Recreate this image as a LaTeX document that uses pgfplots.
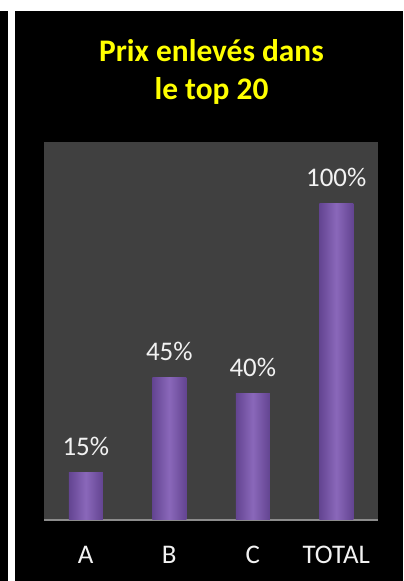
\documentclass[border=0pt]{standalone}
\usepackage{pgfplots}
\pgfplotsset{compat=1.18}
\usepackage{fontspec}
\setmainfont{Carlito}
\definecolor{plotbg}{HTML}{404040}
\definecolor{barmid}{HTML}{8A68BA}
\definecolor{baredge}{HTML}{634491}
\definecolor{labelcol}{HTML}{F2F2F2}
\definecolor{titlecol}{HTML}{FFFF00}
\definecolor{baseline}{HTML}{8C8C8C}
\begin{document}
\begin{tikzpicture}[x=1bp,y=1bp]
\fill[white] (0,0) rectangle (403,581);
\fill[black] (0,0) rectangle (8,570);
\fill[black] (15,0) rectangle (403,570);
\node[anchor=base, text=titlecol, font=\bfseries\fontsize{31.5}{36}\selectfont] at (211.5,519) {Prix enlevés dans};
\node[anchor=base, text=titlecol, font=\bfseries\fontsize{31.5}{36}\selectfont] at (211.5,481) {le top 20};
\begin{axis}[
  at={(44bp,61bp)}, anchor=south west,
  scale only axis, width=334bp, height=378bp,
  xmin=-0.5, xmax=3.5, ymin=0, ymax=119.6,
  axis background/.style={fill=plotbg},
  axis x line*=bottom, axis y line=none,
  x axis line style={draw=baseline, line width=1.5bp, -},
  xtick={0,1,2,3}, xticklabels={A,B,C,TOTAL},
  xtick style={draw=none},
  xticklabel style={anchor=base, yshift=-43bp, text=labelcol, font=\fontsize{27}{30}\selectfont},
  ytick=\empty,
  /pgf/number format/assume math mode=true,
  nodes near coords={\pgfmathprintnumber{\pgfplotspointmeta}\%},
  every node near coord/.append style={anchor=base, yshift=17bp, text=labelcol, font=\fontsize{27}{30}\selectfont},
  clip=false,
  mybar/.style={ybar, bar width=34bp, bar shift=0pt, draw=none, mark=none,
    left color=baredge, right color=baredge, middle color=barmid},
]
\addplot[mybar] coordinates {(0,15)};
\addplot[mybar] coordinates {(1,45)};
\addplot[mybar] coordinates {(2,40)};
\addplot[mybar] coordinates {(3,100)};
\end{axis}
\end{tikzpicture}
\end{document}
